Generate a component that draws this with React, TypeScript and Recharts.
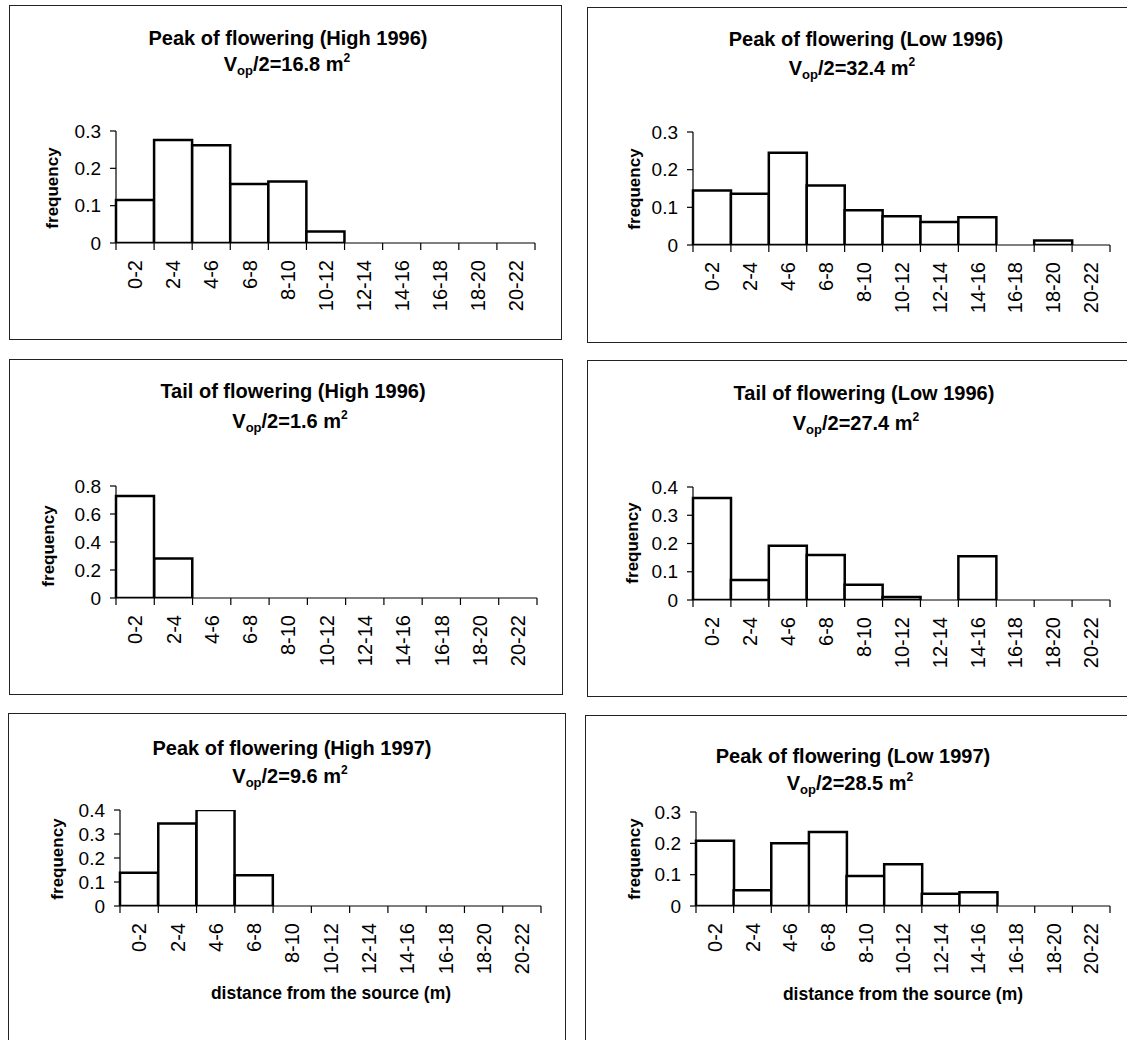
import { BarChart, Bar, XAxis, YAxis } from 'recharts';

const FONT = '"Liberation Sans", Arial, Helvetica, sans-serif';

// distance classes (m)
const bins = ['0-2', '2-4', '4-6', '6-8', '8-10', '10-12', '12-14', '14-16', '16-18', '18-20', '20-22'];

// frequencies
const peakHigh1996 = [0.115, 0.276, 0.262, 0.158, 0.165, 0.031, 0, 0, 0, 0, 0];
const peakLow1996 = [0.145, 0.136, 0.245, 0.158, 0.092, 0.076, 0.061, 0.074, 0, 0.012, 0];
const tailHigh1996 = [0.729, 0.282, 0, 0, 0, 0, 0, 0, 0, 0, 0];
const tailLow1996 = [0.361, 0.071, 0.192, 0.159, 0.054, 0.011, 0, 0.155, 0, 0, 0];
const peakHigh1997 = [0.139, 0.344, 0.4, 0.128, 0, 0, 0, 0, 0, 0, 0];
const peakLow1997 = [0.208, 0.05, 0.2, 0.236, 0.096, 0.133, 0.039, 0.044, 0, 0, 0];

const ticks03 = [0, 0.1, 0.2, 0.3];
const ticks04 = [0, 0.1, 0.2, 0.3, 0.4];
const ticks08 = [0, 0.2, 0.4, 0.6, 0.8];

const titles = [
  'Peak of flowering (High 1996)',
  'Peak of flowering (Low 1996)',
  'Tail of flowering (High 1996)',
  'Tail of flowering (Low 1996)',
  'Peak of flowering (High 1997)',
  'Peak of flowering (Low 1997)',
];
const vopValues = ['16.8', '32.4', '1.6', '27.4', '9.6', '28.5'];
const seriesList = [peakHigh1996, peakLow1996, tailHigh1996, tailLow1996, peakHigh1997, peakLow1997];
const tickList = [ticks03, ticks03, ticks08, ticks04, ticks04, ticks03];

// layout of each panel (page px): box, plot area, title / label anchors
const panels = [
  { box: { x: 9, y: 5, w: 553, h: 335 }, plot: { l: 116, t: 131, r: 535, b: 243 }, title: [288, 45], sub: [287, 71], freq: [52, 188], xlab: null },
  { box: { x: 587, y: 7, w: 570, h: 336 }, plot: { l: 693, t: 132, r: 1110, b: 245 }, title: [866, 46], sub: [852, 75], freq: [634, 189], xlab: null },
  { box: { x: 9, y: 359, w: 554, h: 336 }, plot: { l: 116, t: 486, r: 537, b: 598 }, title: [293, 398], sub: [290, 428], freq: [48, 546], xlab: null },
  { box: { x: 587, y: 360, w: 570, h: 337 }, plot: { l: 693, t: 487, r: 1110, b: 600 }, title: [864, 400], sub: [856, 430], freq: [632, 543], xlab: null },
  { box: { x: 8, y: 713, w: 558, h: 345 }, plot: { l: 120, t: 810, r: 541, b: 906 }, title: [292, 755], sub: [290, 783], freq: [57, 859], xlab: [331, 999] },
  { box: { x: 585, y: 715, w: 570, h: 345 }, plot: { l: 696, t: 812, r: 1110, b: 906 }, title: [853, 763], sub: [850, 790], freq: [634, 859], xlab: [903, 1000] },
];

const Y_W = 50;
const X_H = 70;

// category label, plus the tick marks that sit on the class boundaries
const BinTick = (props: any) => {
  const { x, y, payload, index, band, count } = props;
  const ty = y + 17;
  const left = x - band / 2;
  const right = x + band / 2;
  return (
    <g>
      <line x1={left} x2={left} y1={y} y2={y + 7} stroke="#000" strokeWidth={1.2} />
      {index === count - 1 && <line x1={right} x2={right} y1={y} y2={y + 7} stroke="#000" strokeWidth={1.2} />}
      <text
        x={x}
        y={ty}
        transform={`rotate(-90, ${x}, ${ty})`}
        textAnchor="end"
        dy="0.36em"
        fontSize={20}
        fontFamily={FONT}
        fill="#000"
      >
        {payload.value}
      </text>
    </g>
  );
};

const Panel = ({ idx }: { idx: number }) => {
  const p = panels[idx];
  const ticks = tickList[idx];
  const data = bins.map((bin, i) => ({ bin, freq: seriesList[idx][i] }));
  const band = (p.plot.r - p.plot.l) / bins.length;
  const margin = {
    top: p.plot.t - p.box.y,
    left: p.plot.l - p.box.x - Y_W,
    right: p.box.x + p.box.w - p.plot.r,
    bottom: p.box.y + p.box.h - p.plot.b - X_H,
  };
  return (
    <>
      <div
        style={{
          position: 'absolute',
          left: p.box.x,
          top: p.box.y,
          width: p.box.w,
          height: p.box.h,
          border: '1.5px solid #222',
          boxSizing: 'border-box',
        }}
      />
      <div style={{ position: 'absolute', left: p.box.x, top: p.box.y }}>
        <BarChart width={p.box.w} height={p.box.h} data={data} margin={margin} barCategoryGap={0} barGap={0}>
          <XAxis
            dataKey="bin"
            type="category"
            interval={0}
            height={X_H}
            tickSize={0}
            tickMargin={0}
            axisLine={{ stroke: '#000', strokeWidth: 1.2 }}
            tickLine={false}
            tick={<BinTick band={band} count={bins.length} />}
          />
          <YAxis
            domain={[0, ticks[ticks.length - 1]]}
            ticks={ticks}
            interval={0}
            width={Y_W}
            tickSize={6}
            tickMargin={9}
            allowDataOverflow
            axisLine={{ stroke: '#000', strokeWidth: 1.2 }}
            tickLine={{ stroke: '#000', strokeWidth: 1.2 }}
            tick={{ fontSize: 19, fill: '#000', fontFamily: FONT }}
          />
          <Bar
            dataKey="freq"
            fill="#fff"
            stroke="#000"
            strokeWidth={2.5}
            isAnimationActive={false}
          />
        </BarChart>
      </div>
    </>
  );
};

const App = () => {
  return (
    <div
      style={{
        position: 'absolute',
        left: 0,
        top: 0,
        width: 1127,
        height: 1040,
        overflow: 'hidden',
        background: '#fff',
        fontFamily: FONT,
      }}
    >
      {panels.map((_, i) => (
        <Panel key={i} idx={i} />
      ))}

      {/* titles and axis captions */}
      <svg
        width={1127}
        height={1040}
        style={{ position: 'absolute', left: 0, top: 0, pointerEvents: 'none' }}
        fontFamily={FONT}
      >
        {panels.map((p, i) => (
          <g key={i}>
            <text x={p.title[0]} y={p.title[1]} textAnchor="middle" fontSize={20} fontWeight="bold" fill="#000">
              {titles[i]}
            </text>
            <text x={p.sub[0]} y={p.sub[1]} textAnchor="middle" fontSize={20} fontWeight="bold" fill="#000">
              <tspan>V</tspan>
              <tspan fontSize={13} dy={4}>op</tspan>
              <tspan dy={-4}>{`/2=${vopValues[i]} m`}</tspan>
              <tspan fontSize={12} dy={-9}>2</tspan>
            </text>
            <text
              x={p.freq[0]}
              y={p.freq[1]}
              transform={`rotate(-90, ${p.freq[0]}, ${p.freq[1]})`}
              textAnchor="middle"
              dy="0.36em"
              fontSize={17}
              fontWeight="bold"
              fill="#000"
            >
              frequency
            </text>
            {p.xlab && (
              <text x={p.xlab[0]} y={p.xlab[1]} textAnchor="middle" fontSize={17.5} fontWeight="bold" fill="#000">
                distance from the source (m)
              </text>
            )}
          </g>
        ))}
      </svg>
    </div>
  );
};

export default App;
